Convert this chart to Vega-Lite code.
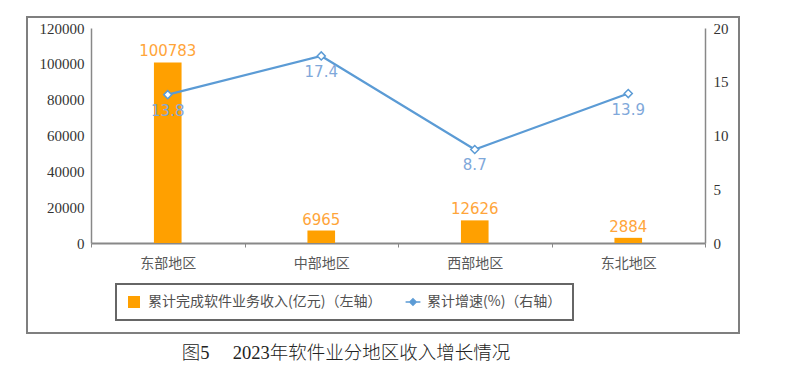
{
  "$schema": "https://vega.github.io/schema/vega-lite/v6.json",
  "width": 712,
  "height": 316,
  "autosize": {"type": "none"},
  "padding": {"left": 27, "top": 17, "right": 50, "bottom": 48},
  "background": "white",
  "config": {
    "view": {"stroke": "#7f7f7f", "strokeWidth": 2, "fill": "white"},
    "axis": {"grid": false}
  },
  "title": {
    "text": "图5\u3000 2023年软件业分地区收入增长情况",
    "orient": "bottom",
    "anchor": "middle",
    "offset": 11,
    "dx": -37,
    "font": "Liberation Serif, Noto Sans CJK SC",
    "fontSize": 18.5,
    "fontWeight": 300,
    "color": "#222222"
  },
  "data": {
    "values": [
      {"region": "东部地区", "revenue": 100783, "growth": 13.8},
      {"region": "中部地区", "revenue": 6965, "growth": 17.4},
      {"region": "西部地区", "revenue": 12626, "growth": 8.7},
      {"region": "东北地区", "revenue": 2884, "growth": 13.9}
    ]
  },
  "encoding": {
    "x": {
      "field": "region",
      "type": "nominal",
      "sort": null,
      "scale": {"type": "band", "range": [64, 678], "paddingInner": 0, "paddingOuter": 0},
      "axis": {
        "title": null,
        "orient": "bottom",
        "offset": -90,
        "labelAngle": 0,
        "labelFont": "Noto Sans CJK SC",
        "labelFontSize": 14,
        "labelColor": "#595959",
        "labelPadding": 9,
        "domainColor": "#888888",
        "domainWidth": 2,
        "tickColor": "#888888",
        "tickSize": 4,
        "tickBand": "extent"
      }
    }
  },
  "layer": [
    {
      "encoding": {
        "y": {
          "field": "revenue",
          "type": "quantitative",
          "scale": {"domain": [0, 120000], "range": [226, 11], "nice": false},
          "axis": {
            "title": null,
            "orient": "left",
            "offset": -64,
            "values": [0, 20000, 40000, 60000, 80000, 100000, 120000],
            "format": "d",
            "ticks": false,
            "labelPadding": 7,
            "labelFont": "Liberation Serif",
            "labelFontSize": 15,
            "labelColor": "#333333",
            "domainColor": "#888888",
            "domainWidth": 1.5
          }
        }
      },
      "layer": [
        {
          "mark": {"type": "bar", "width": {"band": 0.18}},
          "encoding": {
            "color": {
              "datum": "累计完成软件业务收入(亿元)（左轴）",
              "type": "nominal",
              "scale": {
                "domain": ["累计完成软件业务收入(亿元)（左轴）", "累计增速(%)（右轴）"],
                "range": ["#FFA000", "#5B9BD5"]
              },
              "legend": {
                "title": null,
                "orient": "none",
                "legendX": 89,
                "legendY": 267,
                "direction": "horizontal",
                "padding": 11,
                "strokeColor": "#666666",
                "labelFont": "Noto Sans CJK SC",
                "labelFontSize": 14,
                "labelColor": "#505050",
                "labelOffset": 7,
                "columnPadding": 20,
                "symbolSize": 160,
                "labelLimit": 400,
                "encode": {
                  "legend": {"update": {"strokeWidth": {"value": 2}}},
                  "symbols": {
                    "update": {
                      "shape": {"signal": "datum.index === 0 ? 'square' : 'M-1,0H-0.45M0.45,0H1M0,-0.45L0.45,0L0,0.45L-0.45,0Z'"},
                      "fill": {"signal": "datum.index === 0 ? '#FFA000' : '#ffffff'"},
                      "stroke": {"signal": "datum.index === 0 ? '#FFA000' : '#5B9BD5'"},
                      "strokeWidth": {"signal": "datum.index === 0 ? 0 : 1.3"},
                      "size": {"signal": "datum.index === 0 ? 144 : 220"},
                      "opacity": {"value": 1},
                      "fillOpacity": {"value": 1},
                      "strokeOpacity": {"value": 1}
                    }
                  }
                }
              }
            }
          }
        },
        {
          "mark": {"type": "text", "font": "DejaVu Sans", "fontSize": 15, "color": "#FFA53A", "baseline": "middle", "dy": -11},
          "encoding": {"text": {"field": "revenue", "type": "quantitative", "format": "d"}}
        }
      ]
    },
    {
      "encoding": {
        "y": {
          "field": "growth",
          "type": "quantitative",
          "scale": {"domain": [0, 20], "range": [226, 11], "nice": false},
          "axis": {
            "title": null,
            "orient": "right",
            "offset": -34,
            "values": [0, 5, 10, 15, 20],
            "ticks": false,
            "labelPadding": 8,
            "labelFont": "Liberation Serif",
            "labelFontSize": 15,
            "labelColor": "#333333",
            "domainColor": "#888888",
            "domainWidth": 1.5
          }
        }
      },
      "layer": [
        {
          "mark": {"type": "line", "strokeWidth": 2.2},
          "encoding": {
            "color": {"datum": "累计增速(%)（右轴）", "type": "nominal"}
          }
        },
        {
          "mark": {"type": "point", "shape": "diamond", "filled": true, "fill": "white", "stroke": "#5B9BD5", "strokeWidth": 1.5, "size": 65, "opacity": 1}
        },
        {
          "mark": {"type": "text", "font": "DejaVu Sans", "fontSize": 15, "color": "#7FA8DA", "baseline": "middle", "dy": 16},
          "encoding": {"text": {"field": "growth", "type": "quantitative", "format": ".1f"}}
        }
      ]
    }
  ],
  "resolve": {"scale": {"y": "independent"}}
}
